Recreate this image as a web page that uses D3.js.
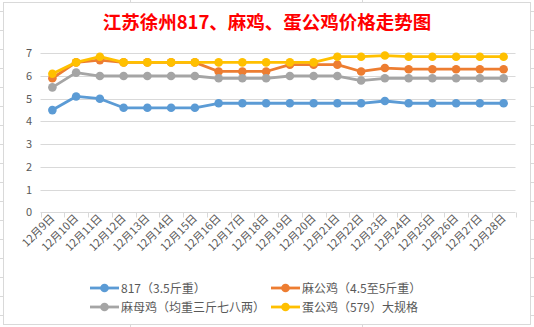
<!DOCTYPE html>
<html><head><meta charset="utf-8">
<script src="https://cdn.jsdelivr.net/npm/d3@7"></script>
<style>html,body{margin:0;padding:0;background:#fff;}svg{display:block;}</style>
</head><body>
<svg id="c" width="534" height="327"></svg>
<script>
const categories = ["12月9日","12月10日","12月11日","12月12日","12月13日","12月14日","12月15日","12月16日","12月17日","12月18日","12月19日","12月20日","12月21日","12月22日","12月23日","12月24日","12月25日","12月26日","12月27日","12月28日"];
const s817 = [4.5,5.1,5.0,4.6,4.6,4.6,4.6,4.8,4.8,4.8,4.8,4.8,4.8,4.8,4.9,4.8,4.8,4.8,4.8,4.8];
const sMaGong = [5.9,6.6,6.7,6.6,6.6,6.6,6.6,6.2,6.2,6.2,6.5,6.5,6.5,6.2,6.35,6.3,6.3,6.3,6.3,6.3];
const sMaMu = [5.5,6.15,6.0,6.0,6.0,6.0,6.0,5.9,5.9,5.9,6.0,6.0,6.0,5.8,5.9,5.9,5.9,5.9,5.9,5.9];
const sDanGong = [6.1,6.6,6.85,6.6,6.6,6.6,6.6,6.6,6.6,6.6,6.6,6.6,6.85,6.85,6.9,6.85,6.85,6.85,6.85,6.85];
const seriesNames = ["817（3.5斤重）","麻公鸡（4.5至5斤重）","麻母鸡（均重三斤七八两）","蛋公鸡（579）大规格"];
const yTicks = [0,1,2,3,4,5,6,7];
const title = "江苏徐州817、麻鸡、蛋公鸡价格走势图";

const colors = ["#5B9BD5","#ED7D31","#A5A5A5","#FFC000"];
const series = [s817, sMaGong, sMaMu, sDanGong];
const svg = d3.select("#c");
const font = "'Noto Sans CJK SC','Microsoft YaHei',sans-serif";

// spreadsheet background grid outside chart
const bg = svg.append("g").attr("stroke","#d9d9d9").attr("stroke-width",1);
for (let y = 11; y < 327; y += 19) {
  bg.append("line").attr("x1",0).attr("x2",3).attr("y1",y+0.5).attr("y2",y+0.5);
  bg.append("line").attr("x1",531).attr("x2",534).attr("y1",y+0.5).attr("y2",y+0.5);
}
[130,362].forEach(x=>{
  bg.append("line").attr("x1",x+0.5).attr("x2",x+0.5).attr("y1",0).attr("y2",2);
  bg.append("line").attr("x1",x+0.5).attr("x2",x+0.5).attr("y1",325).attr("y2",327);
});

// chart area
svg.append("rect").attr("x",3.5).attr("y",2.5).attr("width",527).attr("height",322)
  .attr("fill","#fff").attr("stroke","#d9d9d9").attr("stroke-width",1);

svg.append("text").attr("x",267).attr("y",29).attr("text-anchor","middle")
  .attr("font-family",font).attr("font-weight","bold").attr("font-size",18.5)
  .attr("fill","#FF0000").text(title);

const x = d3.scaleBand().domain(categories).range([40.5,515.5]);
const y = d3.scaleLinear().domain([0,7]).range([212.3,53.3]);

// gridlines
svg.append("g").selectAll("line").data(yTicks.filter(d=>d>0)).join("line")
  .attr("x1",40.5).attr("x2",515.5)
  .attr("y1",d=>Math.round(y(d))+0.5).attr("y2",d=>Math.round(y(d))+0.5)
  .attr("stroke","#d9d9d9").attr("stroke-width",1);

// y labels
svg.append("g").selectAll("text").data(yTicks).join("text")
  .attr("x",32).attr("y",d=>y(d)+4).attr("text-anchor","end")
  .attr("font-family",font).attr("font-size",11).attr("fill","#595959").text(d=>d);

// x axis
const xAxisY = Math.round(y(0))+0.5;
svg.append("line").attr("x1",40.5).attr("x2",515.5).attr("y1",xAxisY).attr("y2",xAxisY)
  .attr("stroke","#d9d9d9");
const bounds = categories.map(c=>x(c)).concat([x(categories[categories.length-1])+x.bandwidth()]);
svg.append("g").selectAll("line").data(bounds).join("line")
  .attr("x1",d=>Math.round(d)+0.5).attr("x2",d=>Math.round(d)+0.5)
  .attr("y1",xAxisY).attr("y2",xAxisY+5).attr("stroke","#d9d9d9");
svg.append("g").selectAll("text").data(categories).join("text")
  .attr("transform",d=>`translate(${x(d)+x.bandwidth()/2+3},${219}) rotate(-45)`)
  .attr("text-anchor","end").attr("font-family",font).attr("font-size",11)
  .attr("fill","#595959").text(d=>d);

// series
const line = d3.line().x((d,i)=>x(categories[i])+x.bandwidth()/2).y(d=>y(d));
series.forEach((s,k)=>{
  const g = svg.append("g");
  g.append("path").datum(s).attr("d",line).attr("fill","none")
    .attr("stroke",colors[k]).attr("stroke-width",2.8).attr("stroke-linejoin","round");
  g.selectAll("circle").data(s).join("circle")
    .attr("cx",(d,i)=>x(categories[i])+x.bandwidth()/2).attr("cy",d=>y(d))
    .attr("r",4.3).attr("fill",colors[k]);
});

// legend
const legPos = [[90,288],[271,288],[90,307],[271,307]];
seriesNames.forEach((n,k)=>{
  const [lx,ly] = legPos[k];
  const g = svg.append("g");
  g.append("line").attr("x1",lx).attr("x2",lx+29).attr("y1",ly).attr("y2",ly)
    .attr("stroke",colors[k]).attr("stroke-width",2.8);
  g.append("circle").attr("cx",lx+14.5).attr("cy",ly).attr("r",4.3).attr("fill",colors[k]);
  g.append("text").attr("x",lx+31).attr("y",ly+4.5).attr("font-family",font)
    .attr("font-size",12).attr("fill","#595959").text(n);
});
</script>
</body></html>
